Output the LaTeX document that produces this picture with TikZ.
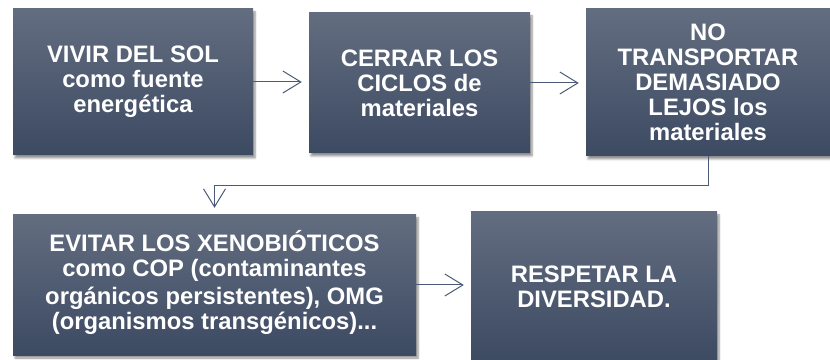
\documentclass[tikz,border=0pt]{standalone}
\usepackage{fontspec}
\setmainfont{Liberation Sans}
\usetikzlibrary{arrows.meta, positioning, shadows.blur}
\definecolor{cajatop}{RGB}{99,109,128}
\definecolor{cajabot}{RGB}{60,74,98}
\definecolor{linea}{RGB}{74,90,120}

\begin{document}
\begin{tikzpicture}[x=1pt, y=1pt,
    caja/.style={rectangle, top color=cajatop, bottom color=cajabot, draw=none,
      text=white, font=\fontsize{23.8}{25}\selectfont\bfseries, align=center,
      inner sep=0pt, blur shadow={shadow xshift=2pt, shadow yshift=-3pt,
      shadow blur steps=6, shadow opacity=45}},
    flecha/.style={draw=linea, line width=1pt, shorten >=7pt,
      -{Straight Barb[length=18pt, width=22pt, line width=1pt]}}]
    \useasboundingbox (0,0) rectangle (830,359);
    \clip (0,0) rectangle (830,359);

    % --- Fila superior ---
    \node[caja, minimum width=240, minimum height=146] (sol) at (133,277)
      {VIVIR DEL SOL\\como fuente\\energética};
    \node[caja, minimum width=221, minimum height=140] (ciclos) at (419.5,276)
      {CERRAR LOS\\CICLOS de\\materiales};
    \node[caja, minimum width=244, minimum height=147] (transp) at (708,276.5)
      {NO\\TRANSPORTAR\\DEMASIADO\\LEJOS los\\materiales};

    % --- Fila inferior ---
    \node[caja, minimum width=403, minimum height=140] (xeno) at (214.5,74)
      {EVITAR LOS XENOBIÓTICOS\\como COP (contaminantes\\[3pt]orgánicos persistentes), OMG\\(organismos transgénicos)...\\[-15pt]\mbox{}};
    \node[caja, minimum width=246, minimum height=150] (divers) at (594,72)
      {RESPETAR LA\\DIVERSIDAD.};

    % --- Flechas ---
    \draw[flecha] (sol.east) -- (sol.east -| ciclos.west);
    \draw[flecha] (ciclos.east) -- (ciclos.east -| transp.west);
    \draw[flecha] (transp.south) -- ++(0,-29) -| (xeno.north);
    \draw[flecha] (xeno.east) -- (xeno.east -| divers.west);
  \end{tikzpicture}
\end{document}
